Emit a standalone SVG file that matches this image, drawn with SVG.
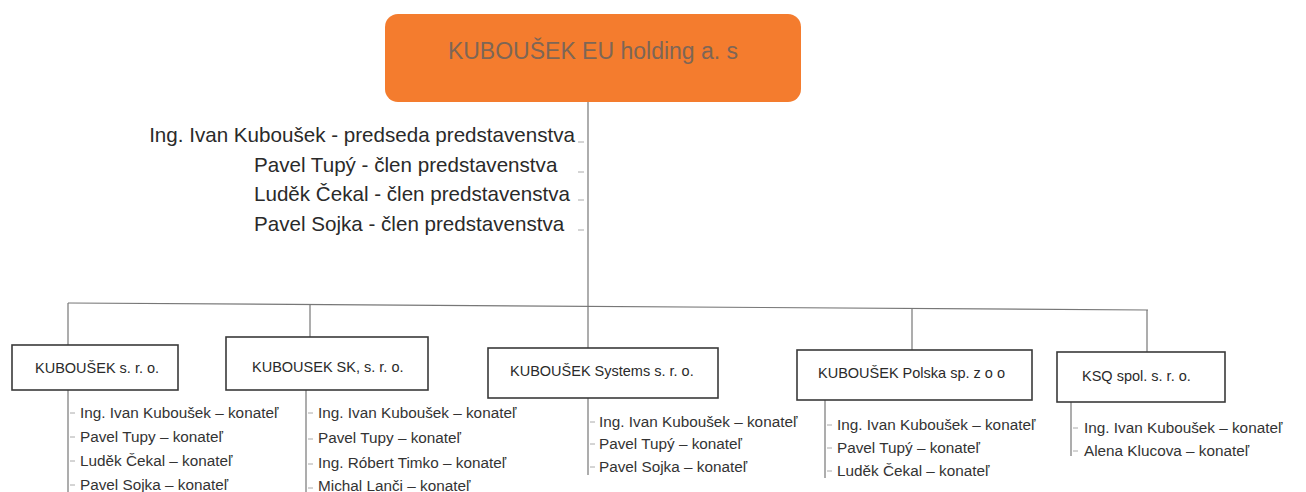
<svg xmlns="http://www.w3.org/2000/svg" width="1306" height="492" viewBox="0 0 1306 492">
<style>
.t{font-family:"Liberation Sans",Arial,sans-serif;fill:#2a2a2a}
.b{font-size:20.6px}
.n{font-size:14.5px}
.l{font-size:15.3px;fill:#333}
.box{fill:#fff;stroke:#3a3a3a;stroke-width:1.6}
.ln{stroke:#777;stroke-width:1.2;fill:none}
.tk{stroke:#aaa;stroke-width:1;fill:none}
</style>
<rect width="1306" height="492" fill="#fff"/>
<g id="connectors">
<path class="ln" d="M588 102V305"/>
<path class="tk" d="M578 142h6M578 172h6M578 200h6M578 230h6"/>
<path class="ln" d="M68 303L1148 310"/>
<path class="ln" d="M68 303V345M310 305V337M588 305V348M912 308V350M1147 310V352"/>
<path class="ln" d="M68 390V492M306 390V492M588 398V475M825 400V478M1071 402V456"/>
<path class="tk" d="M70 413h5M70 437h5M70 461h5M70 485h5M308 413h5M308 439h5M308 464h5M308 488h5M590 422h5M590 444h5M590 467h5M827 425h5M827 448h5M827 471h5M1073 428h5M1073 451h5"/>
</g>
<g id="holding">
<rect x="385" y="14" width="416" height="88" rx="13" fill="#f47c2e"/>
<text x="593" y="59" text-anchor="middle" class="t" style="font-size:23px;fill:#7d6656">KUBOUŠEK EU holding a. s</text>
</g>
<g id="board">
<text x="575" y="142" text-anchor="end" class="t b">Ing. Ivan Kuboušek  - predseda predstavenstva</text>
<text x="254" y="172" class="t b">Pavel Tupý -  člen predstavenstva</text>
<text x="254" y="201" class="t b">Luděk  Čekal - člen predstavenstva</text>
<text x="254" y="231" class="t b">Pavel Sojka - člen predstavenstva</text>
</g>
<g id="n1">
<rect class="box" x="12" y="345" width="166" height="45"/>
<text x="35" y="373" class="t n">KUBOUŠEK s. r. o.</text>
<text x="80" y="418" class="t l">Ing. Ivan Kuboušek – konateľ</text>
<text x="80" y="442" class="t l">Pavel Tupy – konateľ</text>
<text x="80" y="466" class="t l">Luděk Čekal – konateľ</text>
<text x="80" y="490" class="t l">Pavel Sojka – konateľ</text>
</g>
<g id="n2">
<rect class="box" x="226" y="337" width="202" height="53"/>
<text x="252" y="372" class="t n">KUBOUSEK SK, s. r. o.</text>
<text x="318" y="418" class="t l">Ing. Ivan Kuboušek – konateľ</text>
<text x="318" y="443" class="t l">Pavel Tupy – konateľ</text>
<text x="318" y="468" class="t l">Ing. Róbert Timko – konateľ</text>
<text x="318" y="491" class="t l">Michal Lanči – konateľ</text>
</g>
<g id="n3">
<rect class="box" x="488" y="348" width="230" height="50"/>
<text x="510" y="376" class="t n">KUBOUŠEK Systems s. r. o.</text>
<text x="599" y="427" class="t l">Ing. Ivan Kuboušek – konateľ</text>
<text x="599" y="449" class="t l">Pavel Tupý – konateľ</text>
<text x="599" y="472" class="t l">Pavel Sojka – konateľ</text>
</g>
<g id="n4">
<rect class="box" x="797" y="350" width="235" height="50"/>
<text x="818" y="378" class="t n">KUBOUŠEK Polska sp. z o o</text>
<text x="837" y="430" class="t l">Ing. Ivan Kuboušek – konateľ</text>
<text x="837" y="453" class="t l">Pavel Tupý – konateľ</text>
<text x="837" y="476" class="t l">Luděk Čekal – konateľ</text>
</g>
<g id="n5">
<rect class="box" x="1057" y="352" width="168" height="50"/>
<text x="1082" y="381" class="t n">KSQ spol. s. r. o.</text>
<text x="1084" y="433" class="t l">Ing. Ivan Kuboušek – konateľ</text>
<text x="1084" y="456" class="t l">Alena Klucova – konateľ</text>
</g>
</svg>
